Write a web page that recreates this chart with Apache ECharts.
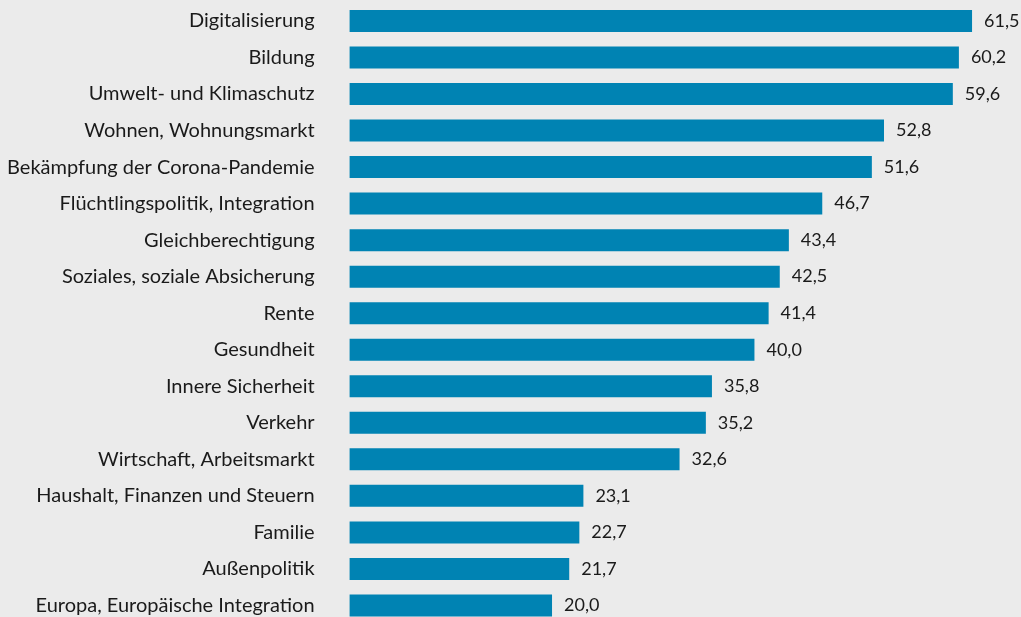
<!DOCTYPE html>
<html>
<head>
<meta charset="utf-8">
<script src="https://cdn.jsdelivr.net/npm/echarts@6/dist/echarts.min.js"></script>
<style>
html, body { margin: 0; padding: 0; background: #ebebeb; }
#main { width: 1021px; height: 617px; }
</style>
</head>
<body>
<div id="main"></div>
<script>
var themen = ['Digitalisierung', 'Bildung', 'Umwelt- und Klimaschutz', 'Wohnen, Wohnungsmarkt',
  'Bekämpfung der Corona-Pandemie', 'Flüchtlingspolitik, Integration', 'Gleichberechtigung',
  'Soziales, soziale Absicherung', 'Rente', 'Gesundheit', 'Innere Sicherheit', 'Verkehr',
  'Wirtschaft, Arbeitsmarkt', 'Haushalt, Finanzen und Steuern', 'Familie', 'Außenpolitik',
  'Europa, Europäische Integration'];
var werte = [61.5, 60.2, 59.6, 52.8, 51.6, 46.7, 43.4, 42.5, 41.4, 40.0, 35.8, 35.2, 32.6, 23.1, 22.7, 21.7, 20.0];

var myChart = echarts.init(document.getElementById('main'));
var option = {
  backgroundColor: '#ebebeb',
  animation: false,
  grid: { left: 349.6, right: 3.4, top: 2.7, height: 621, outerBoundsMode: 'none' },
  xAxis: {
    type: 'value', min: 0, max: 66,
    show: false
  },
  yAxis: {
    type: 'category',
    inverse: true,
    data: themen,
    axisLine: { show: false },
    axisTick: { show: false },
    axisLabel: { fontFamily: 'Lato', fontSize: 20, color: '#1a1a1a', margin: 35 }
  },
  series: [{
    type: 'bar',
    data: werte,
    barWidth: 22,
    itemStyle: { color: '#0083b3' },
    label: {
      show: true, position: 'right', distance: 12,
      fontFamily: 'Lato', fontSize: 18, color: '#1a1a1a',
      formatter: function (p) { return p.value.toFixed(1).replace('.', ','); }
    }
  }]
};
myChart.setOption(option);
</script>
</body>
</html>
